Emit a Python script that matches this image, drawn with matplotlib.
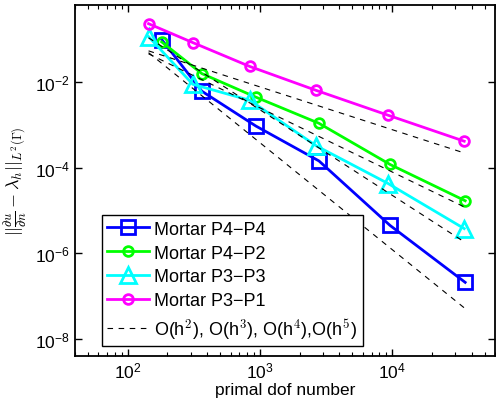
import matplotlib
matplotlib.use("Agg")
import matplotlib.pyplot as plt
from matplotlib.ticker import LogLocator, NullFormatter, FixedLocator

plt.rcParams['font.family'] = ['Liberation Sans', 'DejaVu Sans']
plt.rcParams['mathtext.fontset'] = 'cm'

# data
dof_p4 = [181, 364, 933, 2800, 9650, 35700]
dof_p3 = [144, 311, 839, 2657, 9330, 35100]
err_p4p4 = [0.10, 6.2e-3, 9.5e-4, 1.45e-4, 4.5e-6, 2.1e-7]
err_p4p2 = [0.088, 0.016, 4.5e-3, 1.1e-3, 1.2e-4, 1.7e-5]
err_p3p3 = [0.117, 9.0e-3, 3.8e-3, 3.3e-4, 4.3e-5, 3.8e-6]
err_p3p1 = [0.235, 0.085, 0.0235, 6.5e-3, 1.7e-3, 4.2e-4]

ref_x = [144, 35100]
ref_h2 = [0.0544, 2.23e-4]
ref_h3 = [0.0464, 1.22e-5]
ref_h4 = [0.11, 1.86e-6]
ref_h5 = [0.0494, 5.33e-8]

labels = ['Mortar P4\u2212P4', 'Mortar P4\u2212P2', 'Mortar P3\u2212P3', 'Mortar P3\u2212P1',
          r'O(h$^2$), O(h$^3$), O(h$^4$),O(h$^5$)']

fig = plt.figure(figsize=(4.96, 4.06), dpi=100)
ax = fig.add_axes([75/496, 49/406, 420/496, 351.5/406])

l1, = ax.loglog(dof_p4, err_p4p4, '-s', color=(0, 0, 1), lw=2, ms=10, mfc='none', mew=2)
l2, = ax.loglog(dof_p4, err_p4p2, '-o', color=(0, 1, 0), lw=2, ms=7, mfc='none', mew=2)
l3, = ax.loglog(dof_p3, err_p3p3, '-^', color=(0, 1, 1), lw=2, ms=12, mfc='none', mew=2)
l4, = ax.loglog(dof_p3, err_p3p1, '-o', color=(1, 0, 1), lw=2, ms=7, mfc='none', mew=2)
ld = None
for ry in [ref_h2, ref_h3, ref_h4, ref_h5]:
    ld, = ax.loglog(ref_x, ry, '--', color='black', lw=0.8, dashes=(5, 5))

ax.set_xlim(40, 6e4)
ax.set_ylim(10**-8.4, 10**-0.18)

ax.xaxis.set_major_locator(FixedLocator([1e2, 1e3, 1e4]))
ax.xaxis.set_minor_locator(LogLocator(base=10, subs=range(2, 10), numticks=20))
ax.xaxis.set_minor_formatter(NullFormatter())
ax.yaxis.set_major_locator(FixedLocator([1e-8, 1e-6, 1e-4, 1e-2]))
ax.yaxis.set_minor_locator(FixedLocator([]))
ax.tick_params(which='both', direction='in', top=True, right=True, labelsize=12.5)
ax.tick_params(which='major', length=5, width=1)
ax.tick_params(which='minor', length=3, width=0.8)
for s in ax.spines.values():
    s.set_linewidth(1.3)

ax.set_xlabel('primal dof number', fontsize=12.5, labelpad=1)
ax.set_ylabel(r'$||\frac{\partial u}{\partial n} - \lambda_h||_{L^2(\Gamma)}$', fontsize=13, labelpad=4)

leg = ax.legend([l1, l2, l3, l4, ld], labels, loc='lower left', bbox_to_anchor=(0.064, 0.028),
                borderaxespad=0, fancybox=False, edgecolor='black', framealpha=1,
                fontsize=13, handlelength=2.3, handletextpad=0.3, labelspacing=0.38,
                borderpad=0.3)
leg.get_frame().set_linewidth(1.0)

fig.savefig('out.png', dpi=100)
